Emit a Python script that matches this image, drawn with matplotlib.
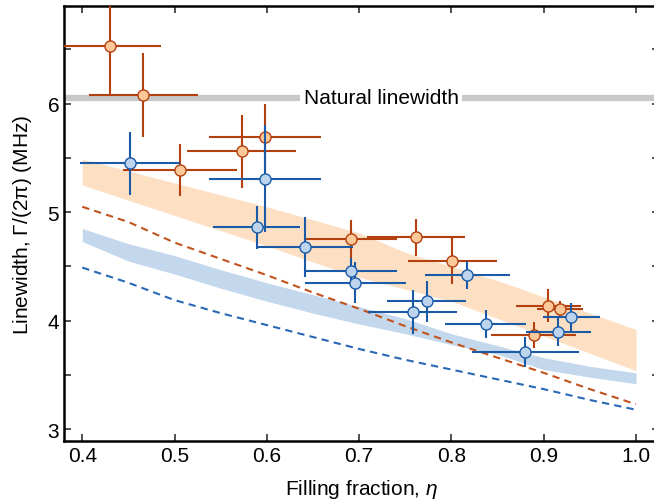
import numpy as np
import matplotlib
matplotlib.use("Agg")
import matplotlib.pyplot as plt

plt.rcParams['font.family'] = ['Liberation Sans', 'DejaVu Sans']
plt.rcParams['mathtext.fontset'] = 'custom'
plt.rcParams['mathtext.rm'] = 'Liberation Sans'
plt.rcParams['mathtext.it'] = 'Liberation Sans:italic'

# measured points (orange / blue)
orange_x = [0.430, 0.466, 0.506, 0.573, 0.598, 0.691, 0.762, 0.801, 0.889, 0.905, 0.918]
orange_y = [6.53, 6.08, 5.39, 5.56, 5.69, 4.75, 4.77, 4.55, 3.87, 4.14, 4.11]
orange_xerr = [0.055, 0.059, 0.062, 0.059, 0.061, 0.050, 0.053, 0.048, 0.046, 0.035, 0.025]
orange_yerr = [0.46, 0.39, 0.24, 0.34, 0.31, 0.18, 0.17, 0.21, 0.12, 0.15, 0.07]

blue_x = [0.452, 0.598, 0.589, 0.641, 0.691, 0.696, 0.817, 0.773, 0.758, 0.837, 0.880, 0.930, 0.916]
blue_y = [5.45, 5.31, 4.86, 4.68, 4.46, 4.35, 4.42, 4.18, 4.08, 3.97, 3.71, 4.03, 3.90]
blue_xerr = [0.054, 0.061, 0.047, 0.052, 0.050, 0.055, 0.046, 0.043, 0.048, 0.044, 0.058, 0.031, 0.035]
blue_yerr = [0.29, 0.49, 0.20, 0.28, 0.12, 0.19, 0.13, 0.19, 0.20, 0.13, 0.14, 0.13, 0.13]

# theory curves
eta = [0.40, 0.45, 0.50, 0.55, 0.60, 0.65, 0.70, 0.75, 0.80, 0.85, 0.90, 0.95, 1.00]
orange_band_top = [5.49, 5.38, 5.27, 5.16, 5.05, 4.93, 4.81, 4.63, 4.50, 4.37, 4.22, 4.07, 3.92]
orange_band_bot = [5.25, 5.11, 4.97, 4.83, 4.69, 4.54, 4.40, 4.29, 4.18, 4.02, 3.86, 3.70, 3.54]
blue_band_top = [4.85, 4.71, 4.60, 4.47, 4.35, 4.24, 4.13, 4.02, 3.88, 3.77, 3.66, 3.58, 3.52]
blue_band_bot = [4.73, 4.55, 4.43, 4.30, 4.18, 4.07, 3.97, 3.88, 3.78, 3.69, 3.55, 3.48, 3.42]
orange_dash = [5.05, 4.91, 4.72, 4.57, 4.42, 4.26, 4.11, 3.95, 3.80, 3.66, 3.52, 3.37, 3.23]
blue_dash = [4.49, 4.35, 4.19, 4.07, 3.96, 3.85, 3.74, 3.64, 3.55, 3.46, 3.37, 3.27, 3.18]

natural_lw = 6.055

o_dark, o_light, o_band = '#b5400f', '#fcc898', '#fde0c4'
b_dark, b_light, b_band = '#1a5aa6', '#bcd4ee', '#c4d8ed'

fig = plt.figure(figsize=(6.54, 5.02), dpi=100)
ax = fig.add_axes([64 / 654, 60 / 502, 595 / 654, 435 / 502])

ax.fill_between(eta, orange_band_bot, orange_band_top, color=o_band, lw=0, zorder=1)
ax.fill_between(eta, blue_band_bot, blue_band_top, color=b_band, lw=0, zorder=1)
ax.plot(eta, orange_dash, color='#c0531e', lw=1.5, dashes=(3.5, 2.5), zorder=2)
ax.plot(eta, blue_dash, color='#2a68b5', lw=1.5, dashes=(3.5, 2.5), zorder=2)

ax.axhline(natural_lw, color='#c8c8c8', lw=4.5, zorder=1.5)
ax.text(0.724, natural_lw, 'Natural linewidth', fontsize=15, ha='center', va='center',
        bbox=dict(facecolor='white', edgecolor='none', pad=2.5), zorder=1.6)

ax.errorbar(orange_x, orange_y, xerr=orange_xerr, yerr=orange_yerr, fmt='o',
            color=o_dark, mfc=o_light, mec=o_dark, ms=8, mew=1.0,
            elinewidth=1.5, capsize=0, zorder=3)
ax.errorbar(blue_x, blue_y, xerr=blue_xerr, yerr=blue_yerr, fmt='o',
            color=b_dark, mfc=b_light, mec=b_dark, ms=8, mew=1.0,
            elinewidth=1.5, capsize=0, zorder=4)

ax.set_xlim(0.3802, 1.0249)
ax.set_ylim(2.892, 6.90)
ax.set_xticks(np.arange(0.4, 1.01, 0.1))
ax.set_xticklabels(['0.4', '0.5', '0.6', '0.7', '0.8', '0.9', '1.0'])
ax.set_yticks([3, 4, 5, 6])
ax.set_yticks([3.5, 4.5, 5.5, 6.5], minor=True)
ax.tick_params(which='both', direction='in', top=True, right=True, length=5,
               width=1.2, labelsize=15, color='#333333')
for s in ax.spines.values():
    s.set_linewidth(1.8)

ax.set_xlabel(r'Filling fraction, $\mathit{\eta}$', fontsize=15, labelpad=9)
ax.set_ylabel(r'Linewidth, $\mathit{\Gamma}$/(2$\mathrm{\pi}$) (MHz)', fontsize=15, labelpad=10)

fig.savefig('out.png', dpi=100)
